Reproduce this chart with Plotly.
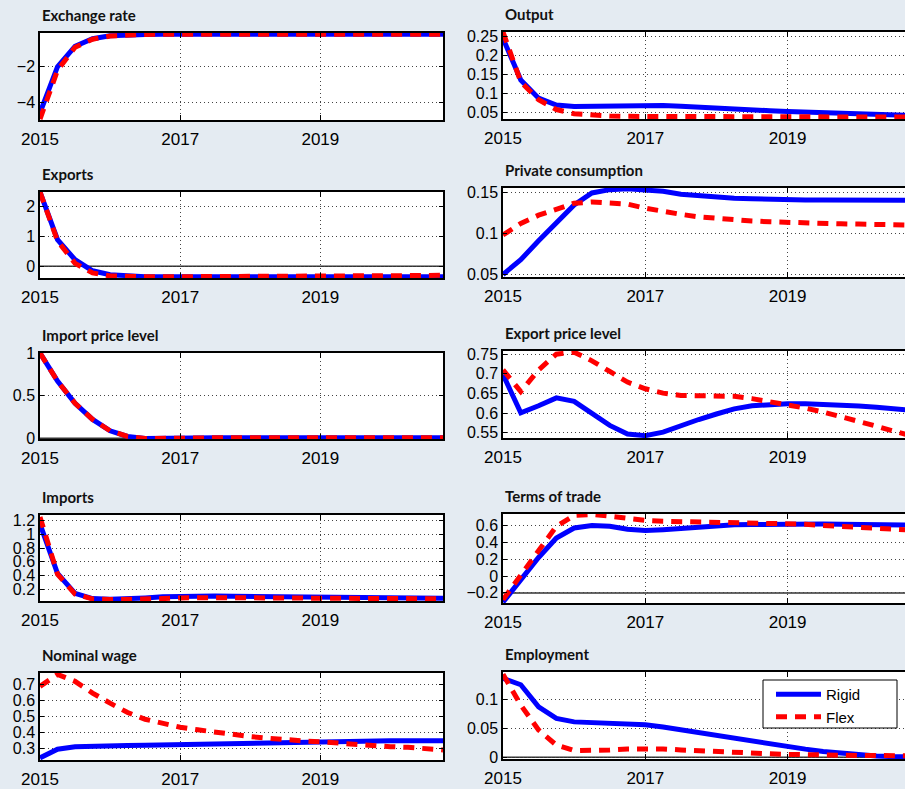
import plotly.graph_objects as go

# ---------------- data ----------------
quarters = [2015.00, 2015.25, 2015.50, 2015.75, 2016.00, 2016.25, 2016.50, 2016.75,
            2017.00, 2017.25, 2017.50, 2017.75, 2018.00, 2018.25, 2018.50, 2018.75,
            2019.00, 2019.25, 2019.50, 2019.75, 2020.00, 2020.25, 2020.50, 2020.75]
x_tick_vals = [2015, 2017, 2019]
x_tick_text = ["2015", "2017", "2019"]
series_names = ["Rigid", "Flex"]

exch_rigid = [-4.6, -2.0, -0.85, -0.42, -0.26, -0.2, -0.18, -0.17, -0.17, -0.17, -0.17, -0.17,
              -0.17, -0.17, -0.17, -0.17, -0.17, -0.17, -0.17, -0.17, -0.17, -0.17, -0.17, -0.17]
exch_flex = [-4.95, -2.2, -0.9, -0.45, -0.27, -0.21, -0.18, -0.17, -0.17, -0.17, -0.17, -0.17,
             -0.17, -0.17, -0.17, -0.17, -0.17, -0.17, -0.17, -0.17, -0.17, -0.17, -0.17, -0.17]

output_rigid = [0.245, 0.135, 0.087, 0.069, 0.065, 0.066, 0.068, 0.069, 0.069, 0.068, 0.066, 0.063,
                0.06, 0.058, 0.056, 0.054, 0.052, 0.05, 0.048, 0.046, 0.045, 0.043, 0.042, 0.041]
output_flex = [0.262, 0.13, 0.083, 0.057, 0.046, 0.042, 0.04, 0.039, 0.039, 0.038, 0.038, 0.038,
               0.037, 0.037, 0.037, 0.037, 0.037, 0.037, 0.037, 0.037, 0.037, 0.037, 0.037, 0.037]

exports_rigid = [2.48, 0.89, 0.22, -0.15, -0.28, -0.33, -0.345, -0.35, -0.35, -0.35, -0.35, -0.35,
                 -0.35, -0.35, -0.35, -0.35, -0.35, -0.35, -0.35, -0.35, -0.35, -0.35, -0.35, -0.35]
exports_flex = [2.48, 0.85, 0.1, -0.22, -0.32, -0.345, -0.35, -0.35, -0.35, -0.35, -0.35, -0.35,
                -0.35, -0.35, -0.35, -0.35, -0.345, -0.34, -0.335, -0.33, -0.32, -0.31, -0.305, -0.30]

cons_rigid = [0.05, 0.068, 0.091, 0.112, 0.1345, 0.149, 0.153, 0.154, 0.153, 0.151, 0.1475, 0.1455,
              0.1435, 0.1425, 0.142, 0.141, 0.1407, 0.1405, 0.1403, 0.14, 0.14, 0.14, 0.14, 0.14]
cons_flex = [0.098, 0.112, 0.122, 0.130, 0.1365, 0.138, 0.137, 0.1355, 0.1305, 0.126, 0.123, 0.120,
             0.118, 0.116, 0.115, 0.114, 0.113, 0.1125, 0.112, 0.1115, 0.1112, 0.111, 0.1105, 0.110]

impp_rigid = [1.0, 0.67, 0.41, 0.22, 0.086, 0.02, -0.005, -0.006, -0.002, 0.002, 0.004, 0.005,
              0.005, 0.005, 0.005, 0.005, 0.005, 0.005, 0.005, 0.005, 0.005, 0.005, 0.005, 0.005]
impp_flex = [1.0, 0.67, 0.41, 0.22, 0.086, 0.02, -0.005, -0.006, -0.002, 0.002, 0.004, 0.005,
             0.005, 0.005, 0.005, 0.005, 0.005, 0.005, 0.005, 0.005, 0.005, 0.005, 0.005, 0.005]

expp_rigid = [0.698, 0.601, 0.619, 0.639, 0.630, 0.601, 0.569, 0.547, 0.543, 0.552, 0.569, 0.584,
              0.598, 0.611, 0.619, 0.623, 0.624, 0.624, 0.623, 0.621, 0.618, 0.615, 0.611, 0.607]
expp_flex = [0.71, 0.655, 0.71, 0.75, 0.755, 0.733, 0.706, 0.679, 0.662, 0.651, 0.645, 0.645,
             0.645, 0.643, 0.637, 0.630, 0.622, 0.613, 0.603, 0.592, 0.58, 0.567, 0.554, 0.542]

imports_rigid = [1.15, 0.43, 0.14, 0.065, 0.055, 0.06, 0.075, 0.09, 0.1, 0.103, 0.103, 0.1,
                 0.097, 0.094, 0.09, 0.087, 0.084, 0.081, 0.078, 0.076, 0.074, 0.072, 0.071, 0.07]
imports_flex = [1.25, 0.42, 0.13, 0.06, 0.05, 0.05, 0.055, 0.065, 0.075, 0.08, 0.08, 0.078,
                0.076, 0.074, 0.072, 0.07, 0.068, 0.066, 0.065, 0.064, 0.063, 0.062, 0.062, 0.062]

tot_rigid = [-0.31, -0.05, 0.22, 0.45, 0.57, 0.60, 0.59, 0.555, 0.54, 0.55, 0.565, 0.58,
             0.60, 0.607, 0.612, 0.616, 0.62, 0.618, 0.616, 0.614, 0.612, 0.61, 0.607, 0.605]
tot_flex = [-0.28, 0.01, 0.31, 0.59, 0.72, 0.73, 0.71, 0.68, 0.66, 0.65, 0.645, 0.642,
            0.64, 0.638, 0.636, 0.632, 0.628, 0.615, 0.60, 0.588, 0.576, 0.566, 0.556, 0.545]

wage_rigid = [0.24, 0.294, 0.31, 0.315, 0.317, 0.318, 0.319, 0.321, 0.324, 0.327, 0.330, 0.333,
              0.336, 0.339, 0.342, 0.344, 0.346, 0.347, 0.347, 0.347, 0.347, 0.347, 0.347, 0.347]
wage_flex = [0.686, 0.76, 0.717, 0.644, 0.581, 0.523, 0.481, 0.456, 0.431, 0.415, 0.40, 0.385,
             0.373, 0.363, 0.352, 0.346, 0.34, 0.331, 0.321, 0.315, 0.31, 0.306, 0.298, 0.29]

emp_rigid = [0.136, 0.125, 0.087, 0.067, 0.061, 0.060, 0.060, 0.059, 0.056, 0.052, 0.047, 0.0425,
             0.037, 0.032, 0.027, 0.0225, 0.018, 0.014, 0.010, 0.007, 0.004, 0.002, 0.001, 0.0005]
emp_flex = [0.143, 0.09, 0.047, 0.021, 0.0115, 0.0115, 0.0126, 0.0144, 0.015, 0.0144, 0.0126, 0.011,
            0.009, 0.008, 0.007, 0.006, 0.005, 0.004, 0.0035, 0.003, 0.003, 0.003, 0.0025, 0.0025]

titles = ["Exchange rate", "Output", "Exports", "Private consumption", "Import price level",
          "Export price level", "Imports", "Terms of trade", "Nominal wage", "Employment"]
rigid_series = [exch_rigid, output_rigid, exports_rigid, cons_rigid, impp_rigid,
                expp_rigid, imports_rigid, tot_rigid, wage_rigid, emp_rigid]
flex_series = [exch_flex, output_flex, exports_flex, cons_flex, impp_flex,
               expp_flex, imports_flex, tot_flex, wage_flex, emp_flex]
y_ranges = [[-5.0, -0.1], [0.032, 0.262], [-0.39, 2.48], [0.047, 0.155], [-0.01, 1.0],
            [0.537, 0.758], [0.03, 1.28], [-0.32, 0.736], [0.227, 0.769], [-0.003, 0.147]]
y_tick_vals = [[-4, -2], [0.05, 0.1, 0.15, 0.2, 0.25], [0, 1, 2], [0.05, 0.1, 0.15], [0, 0.5, 1],
               [0.55, 0.6, 0.65, 0.7, 0.75], [0.2, 0.4, 0.6, 0.8, 1, 1.2], [-0.2, 0, 0.2, 0.4, 0.6],
               [0.3, 0.4, 0.5, 0.6, 0.7], [0, 0.05, 0.1]]
y_tick_text = [["\u22124", "\u22122"], ["0.05", "0.1", "0.15", "0.2", "0.25"], ["0", "1", "2"],
               ["0.05", "0.1", "0.15"], ["0", "0.5", "1"], ["0.55", "0.6", "0.65", "0.7", "0.75"],
               ["0.2", "0.4", "0.6", "0.8", "1", "1.2"], ["\u22120.2", "0", "0.2", "0.4", "0.6"],
               ["0.3", "0.4", "0.5", "0.6", "0.7"], ["0", "0.05", "0.1"]]
ref_levels = [None, None, 0, None, 0, None, None, -0.2, None, 0]

# ---------------- layout geometry (pixels) ----------------
W, H = 905, 789
BG = "#e4ebf2"
boxes = [(40, 33, 443, 120), (503, 32, 905, 119),
         (40, 192, 443, 278), (503, 188, 905, 277),
         (40, 353, 443, 439), (503, 351, 905, 438),
         (40, 515, 443, 601), (503, 514, 905, 603),
         (40, 673, 443, 760), (503, 672, 905, 759)]
x_range_left = [2015, 2020.75]
x_range_right = [2015, 2020.65]

BLUE = "rgb(0,0,255)"
RED = "rgb(255,0,0)"
TICKFONT = "Liberation Sans, Arial, sans-serif"

fig = go.Figure()
layout = dict(template="none", width=W, height=H, autosize=False,
              margin=dict(l=0, r=0, t=0, b=0, pad=0),
              paper_bgcolor=BG, plot_bgcolor="white", showlegend=True)
annotations = []
shapes = []

for i in range(10):
    k = "" if i == 0 else str(i + 1)
    l, t, r, b = boxes[i]
    right_col = (i % 2 == 1)
    xdom = [l / W, r / W]
    ydom = [1 - b / H, 1 - t / H]
    xr = x_range_right if right_col else x_range_left
    layout["xaxis" + k] = dict(
        domain=xdom, anchor="y" + k, range=xr, automargin=False,
        tickmode="array", tickvals=x_tick_vals, ticktext=x_tick_text,
        ticks="inside", ticklen=5, tickwidth=1, tickcolor="black", ticklabelstandoff=3,
        showline=True, linecolor="black", linewidth=1.5, mirror="allticks",
        showgrid=True, gridcolor="#444", gridwidth=1, griddash="1px,3px",
        zeroline=False, tickfont=dict(family=TICKFONT, size=17, color="black"),
        fixedrange=True)
    layout["yaxis" + k] = dict(
        domain=ydom, anchor="x" + k, range=y_ranges[i], automargin=False,
        tickmode="array", tickvals=y_tick_vals[i], ticktext=y_tick_text[i],
        ticks="inside", ticklen=4, tickwidth=1, tickcolor="black",
        showline=True, linecolor="black", linewidth=1.5,
        mirror=False if right_col else "allticks",
        showgrid=True, gridcolor="#444", gridwidth=1, griddash="1px,3px",
        zeroline=False, tickfont=dict(family=TICKFONT, size=16, color="black"),
        fixedrange=True)
    show = (i == 9)
    fig.add_trace(go.Scatter(x=quarters, y=rigid_series[i], mode="lines", name=series_names[0],
                             line=dict(color=BLUE, width=5), showlegend=show, hoverinfo="skip",
                             xaxis="x" + k, yaxis="y" + k))
    fig.add_trace(go.Scatter(x=quarters, y=flex_series[i], mode="lines", name=series_names[1],
                             line=dict(color=RED, width=5, dash="11px,8px"), showlegend=show,
                             hoverinfo="skip", xaxis="x" + k, yaxis="y" + k))
    annotations.append(dict(text="<b>" + titles[i] + "</b>", xref="paper", yref="paper",
                            x=xdom[0], y=ydom[1], xanchor="left", yanchor="bottom",
                            yshift=7, showarrow=False,
                            font=dict(family="Lato, sans-serif", size=15, color="#111")))
    if ref_levels[i] is not None:
        shapes.append(dict(type="line", xref="x" + k, yref="y" + k,
                           x0=xr[0], x1=xr[1], y0=ref_levels[i], y1=ref_levels[i],
                           line=dict(color="#333", width=1.5), layer="below"))

# legend box (Employment panel)
shapes.append(dict(type="rect", xref="paper", yref="paper",
                   x0=763 / W, x1=897 / W, y0=1 - 728 / H, y1=1 - 680 / H,
                   fillcolor="white", line=dict(color="black", width=1), layer="above"))

layout["annotations"] = annotations
layout["shapes"] = shapes
layout["legend"] = dict(x=771 / W, y=1 - 678 / H, xanchor="left", yanchor="top",
                        bgcolor="rgba(0,0,0,0)", borderwidth=0, itemwidth=45,
                        font=dict(family=TICKFONT, size=15, color="black"),
                        tracegroupgap=0)
fig.update_layout(**layout)
fig.write_html("out.html", config={"displayModeBar": False},
               post_script="document.body.style.margin='0';document.body.style.background='%s';" % BG)
